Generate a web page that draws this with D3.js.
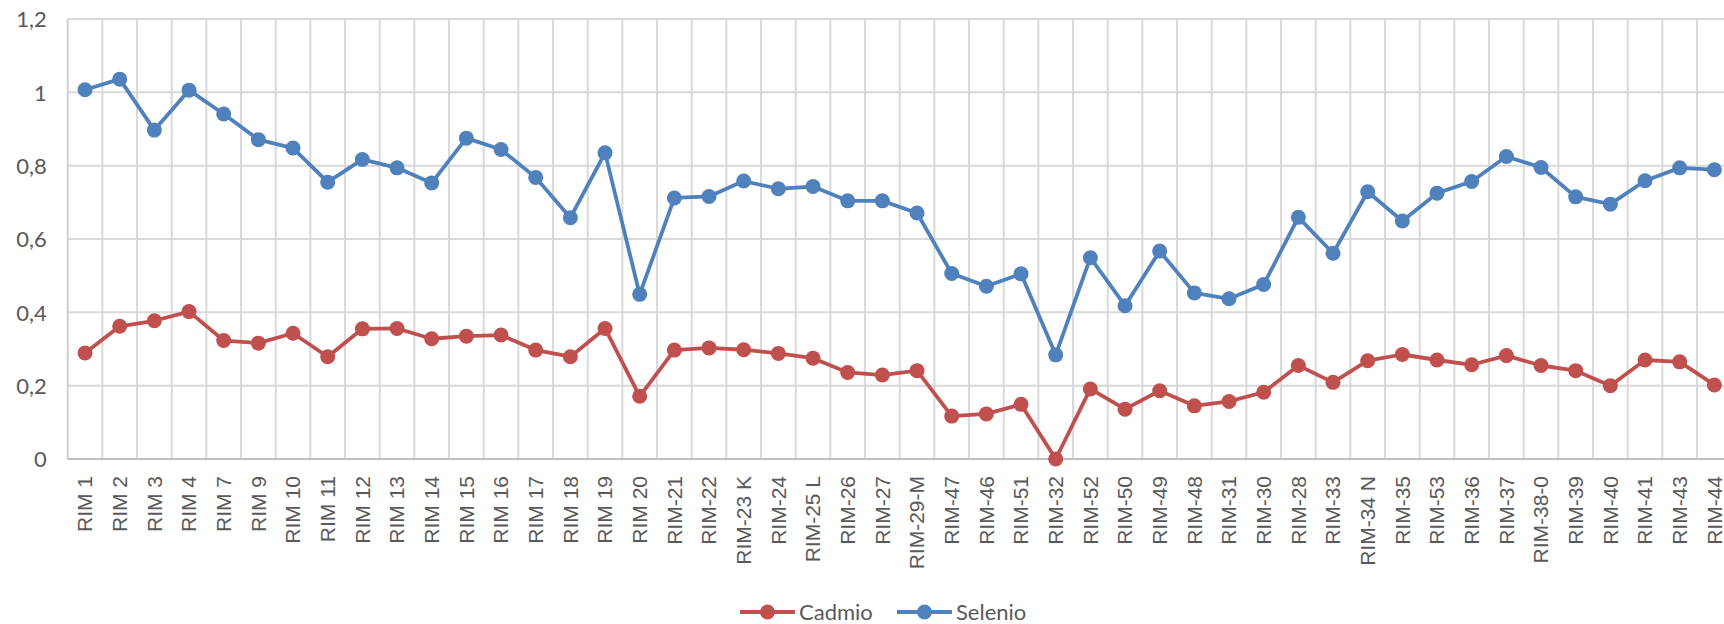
<!DOCTYPE html>
<html>
<head>
<meta charset="utf-8">
<script src="https://cdn.jsdelivr.net/npm/d3@7"></script>
<style>
  html, body { margin: 0; padding: 0; background: #fff; overflow: hidden; }
  svg { display: block; }
</style>
</head>
<body>
<svg id="chart" width="1724" height="624"></svg>
<script>
const categories = ["RIM 1","RIM 2","RIM 3","RIM 4","RIM 7","RIM 9","RIM 10","RIM 11","RIM 12","RIM 13","RIM 14","RIM 15","RIM 16","RIM 17","RIM 18","RIM 19","RIM 20","RIM-21","RIM-22","RIM-23 K","RIM-24","RIM-25 L","RIM-26","RIM-27","RIM-29-M","RIM-47","RIM-46","RIM-51","RIM-32","RIM-52","RIM-50","RIM-49","RIM-48","RIM-31","RIM-30","RIM-28","RIM-33","RIM-34 N","RIM-35","RIM-53","RIM-36","RIM-37","RIM-38-0","RIM-39","RIM-40","RIM-41","RIM-43","RIM-44"];

const cadmio = [0.289,0.362,0.377,0.402,0.323,0.316,0.343,0.279,0.355,0.356,0.328,0.335,0.338,0.297,0.279,0.356,0.171,0.297,0.303,0.298,0.288,0.275,0.236,0.229,0.241,0.117,0.123,0.149,0.0,0.191,0.136,0.186,0.145,0.157,0.182,0.255,0.209,0.268,0.285,0.270,0.257,0.282,0.255,0.241,0.200,0.270,0.265,0.202];

const selenio = [1.007,1.036,0.897,1.006,0.941,0.871,0.848,0.755,0.817,0.794,0.753,0.875,0.844,0.768,0.658,0.835,0.449,0.712,0.716,0.758,0.737,0.743,0.704,0.704,0.671,0.506,0.471,0.505,0.284,0.549,0.418,0.567,0.453,0.437,0.476,0.659,0.561,0.729,0.649,0.725,0.757,0.825,0.795,0.715,0.695,0.759,0.794,0.789];

const yTicks = [0, 0.2, 0.4, 0.6, 0.8, 1, 1.2];
const yTickLabels = ["0", "0,2", "0,4", "0,6", "0,8", "1", "1,2"];

const seriesNames = ["Cadmio", "Selenio"];
const seriesColors = ["#C0504D", "#4F81BD"];

const svg = d3.select("#chart");
const plot = { left: 67.7, top: 19, bottom: 459, width: 1664 };

const x = d3.scaleBand().domain(categories).range([plot.left, plot.left + plot.width]).padding(0);
const y = d3.scaleLinear().domain([0, 1.2]).range([plot.bottom, plot.top]);
const cx = c => x(c) + x.bandwidth() / 2;

// horizontal gridlines
svg.append("g").selectAll("line").data(yTicks.filter(d => d > 0)).join("line")
  .attr("x1", plot.left).attr("x2", plot.left + plot.width)
  .attr("y1", d => y(d)).attr("y2", d => y(d))
  .attr("stroke", "#D9D9D9").attr("stroke-width", 2);

// vertical gridlines at category boundaries
svg.append("g").selectAll("line").data(categories.slice(1)).join("line")
  .attr("x1", d => x(d)).attr("x2", d => x(d))
  .attr("y1", plot.top).attr("y2", plot.bottom)
  .attr("stroke", "#D9D9D9").attr("stroke-width", 2);

// left axis line
svg.append("line")
  .attr("x1", plot.left).attr("x2", plot.left)
  .attr("y1", plot.top).attr("y2", plot.bottom)
  .attr("stroke", "#CFCFCF").attr("stroke-width", 2);

// bottom axis line
svg.append("line")
  .attr("x1", plot.left).attr("x2", plot.left + plot.width)
  .attr("y1", plot.bottom).attr("y2", plot.bottom)
  .attr("stroke", "#BFBFBF").attr("stroke-width", 2);

// y axis labels
const yAxis = d3.axisLeft(y).tickValues(yTicks).tickSize(0)
  .tickFormat((d, i) => yTickLabels[i]);
const gy = svg.append("g").attr("transform", `translate(${plot.left - 21},0)`).call(yAxis);
gy.select(".domain").remove();
gy.selectAll("text")
  .attr("font-family", "Lato, 'Open Sans', sans-serif")
  .attr("font-size", 22).attr("fill", "#595959").attr("dy", "0.35em").attr("x", 0);

// x axis labels
const xAxis = d3.axisBottom(x).tickSize(0);
const gx = svg.append("g").attr("transform", `translate(0,${plot.bottom})`).call(xAxis);
gx.select(".domain").remove();
gx.selectAll("text")
  .attr("font-family", "'Liberation Sans', Arial, sans-serif")
  .attr("font-size", 21).attr("fill", "#595959")
  .attr("text-anchor", "end")
  .attr("transform", "rotate(-90)")
  .attr("x", -17).attr("y", 0).attr("dy", "0.34em");

// series
const series = [cadmio, selenio];
series.forEach((vals, si) => {
  const line = d3.line().x((d, i) => cx(categories[i])).y(d => y(d));
  svg.append("path").datum(vals)
    .attr("d", line).attr("fill", "none")
    .attr("stroke", seriesColors[si]).attr("stroke-width", 3.8)
    .attr("stroke-linejoin", "round");
  svg.append("g").selectAll("circle").data(vals).join("circle")
    .attr("cx", (d, i) => cx(categories[i])).attr("cy", d => y(d))
    .attr("r", 7.5).attr("fill", seriesColors[si]);
});

// legend
const legendItems = [
  { name: seriesNames[0], color: seriesColors[0], x0: 740 },
  { name: seriesNames[1], color: seriesColors[1], x0: 897 }
];
const ly = 612;
const lg = svg.append("g");
legendItems.forEach(it => {
  lg.append("line").attr("x1", it.x0).attr("x2", it.x0 + 55)
    .attr("y1", ly).attr("y2", ly)
    .attr("stroke", it.color).attr("stroke-width", 3.8);
  lg.append("circle").attr("cx", it.x0 + 27.5).attr("cy", ly).attr("r", 7.5).attr("fill", it.color);
  lg.append("text").attr("x", it.x0 + 59).attr("y", ly).attr("dy", "0.35em")
    .attr("font-family", "Lato, 'Open Sans', sans-serif")
    .attr("font-size", 22).attr("fill", "#595959").text(it.name);
});
</script>
</body>
</html>
